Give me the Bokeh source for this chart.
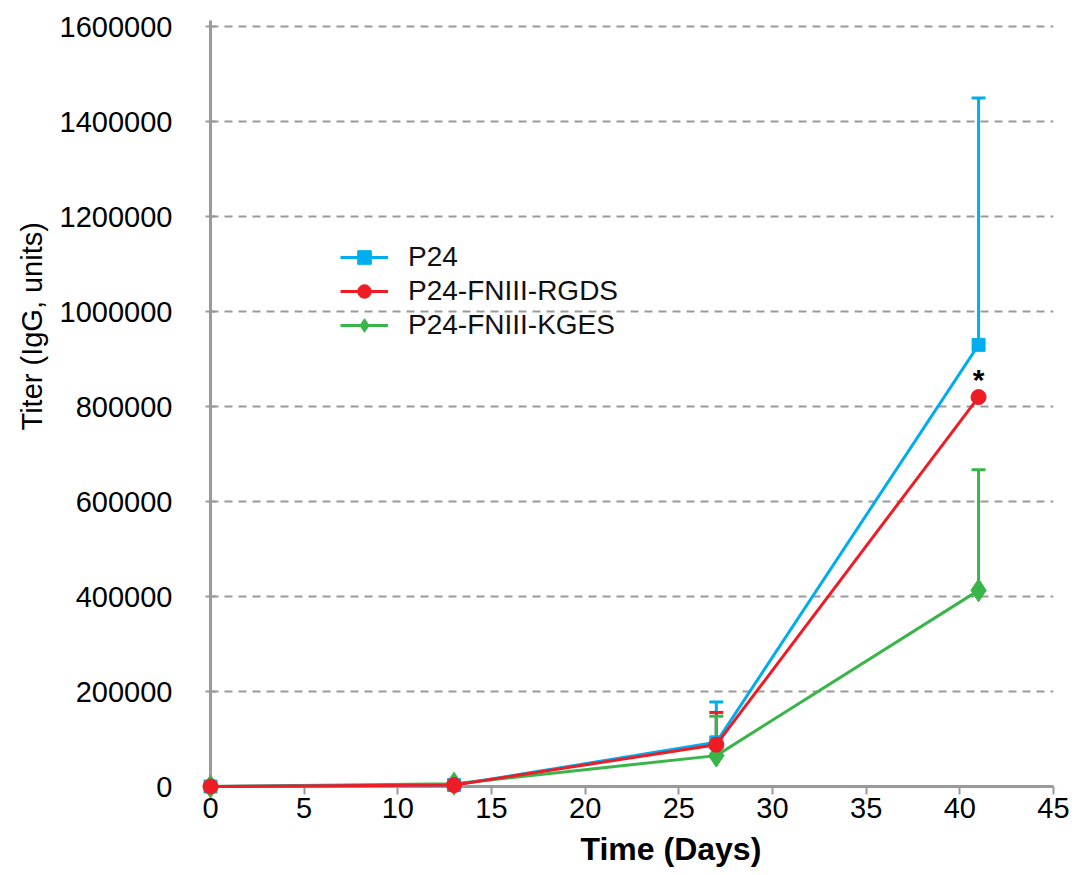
from bokeh.plotting import figure
from bokeh.models import (Range1d, FixedTicker, Whisker, TeeHead, ColumnDataSource,
                          Legend, LegendItem, Title)
from bokeh.core.properties import value
from bokeh.embed import file_html
from bokeh.resources import INLINE

# ---- data ----
days = [0, 13, 27, 41]
p24 = [0, 3000, 93000, 930000]
rgds = [0, 3000, 88000, 820000]
kges = [0, 6000, 65000, 413000]

err_days = [27, 41]
p24_err_top = [178000, 1450000]
rgds_err_top = [156000, 820000]
kges_err_top = [148000, 667000]

x_ticks = [0, 5, 10, 15, 20, 25, 30, 35, 40, 45]
x_tick_labels = ["0", "5", "10", "15", "20", "25", "30", "35", "40", "45"]
y_ticks = [0, 200000, 400000, 600000, 800000, 1000000, 1200000, 1400000, 1600000]
y_tick_labels = ["0", "200000", "400000", "600000", "800000", "1000000",
                 "1200000", "1400000", "1600000"]

names = ["P24", "P24-FNIII-RGDS", "P24-FNIII-KGES"]
colors = ["#00AEEF", "#EE1C25", "#39B54A"]
x_title = "Time (Days)"
y_title = "Titer (IgG, units)"

FONT = "Liberation Sans"
AX = "#9a9a9a"

p = figure(width=1090, height=875, x_range=Range1d(0, 45), y_range=Range1d(0, 1613000),
           output_backend="svg", toolbar_location=None,
           min_border_left=210, min_border_right=37, min_border_top=20, min_border_bottom=89)
p.outline_line_color = None
p.background_fill_color = "white"
p.border_fill_color = "white"

p.xgrid.visible = False
p.ygrid.ticker = FixedTicker(ticks=y_ticks)
p.ygrid.grid_line_color = AX
p.ygrid.grid_line_width = 2
p.ygrid.grid_line_dash = "8 6"

for ax in (p.xaxis[0], p.yaxis[0]):
    ax.axis_line_color = AX
    ax.axis_line_width = 3
    ax.major_tick_line_color = AX
    ax.major_tick_line_width = 2
    ax.minor_tick_line_color = None
    ax.major_label_text_font = FONT
    ax.major_label_text_font_size = "29px"
    ax.major_label_text_color = "black"

p.xaxis.ticker = FixedTicker(ticks=x_ticks)
p.xaxis.major_label_overrides = dict(zip(x_ticks, x_tick_labels))
p.xaxis.major_tick_in = 0
p.xaxis.major_tick_out = 8
p.xaxis.major_label_standoff = 3

p.yaxis.ticker = FixedTicker(ticks=y_ticks)
p.yaxis.major_label_overrides = dict(zip(y_ticks, y_tick_labels))
p.yaxis.major_tick_in = 5
p.yaxis.major_tick_out = 5
p.yaxis.major_label_standoff = 33

# axis titles (as side titles so they can be shifted along the axis)
xt = Title(text=x_title, align="left", offset=370, standoff=17, text_font=FONT,
           text_font_size="32px", text_font_style="bold", text_color="black")
p.add_layout(xt, "below")
yt = Title(text=y_title, align="left", offset=356, standoff=17, text_font=FONT,
           text_font_size="29px", text_font_style="normal", text_color="black")
p.add_layout(yt, "left")

series = [p24, rgds, kges]
markers = ["square", "circle", "diamond"]
sizes = [13, 15, 23]
tops = [p24_err_top, rgds_err_top, kges_err_top]

# error bars (upper only)
for i in [0, 1, 2]:
    means = [series[i][days.index(d)] for d in err_days]
    src = ColumnDataSource(dict(x=err_days, lo=means, hi=tops[i]))
    w = Whisker(base="x", lower="lo", upper="hi", source=src, dimension="height",
                line_color=colors[i], line_width=3,
                upper_head=TeeHead(size=14, line_color=colors[i], line_width=3),
                lower_head=None)
    p.add_layout(w)

items = {}
for i in [2, 0, 1]:
    src = ColumnDataSource(dict(x=days, y=series[i]))
    l = p.line("x", "y", source=src, line_color=colors[i], line_width=3, level="overlay")
    m = p.scatter("x", "y", source=src, marker=markers[i], size=sizes[i],
                  fill_color=colors[i], line_color=colors[i], level="overlay")
    items[i] = [l, m]

# significance asterisk above the RGDS value at the last time point
p.text(x=[days[-1]], y=[rgds[-1]], text=["*"], text_font=value(FONT),
       text_font_size="30px", text_font_style="bold", text_align="center",
       text_baseline="middle", y_offset=-18, text_color="black", level="overlay")

legend = Legend(items=[LegendItem(label=names[i], renderers=items[i]) for i in [0, 1, 2]],
                location=(130, 444), orientation="vertical")
legend.label_text_font = FONT
legend.label_text_font_size = "28px"
legend.label_text_color = "#111111"
legend.glyph_width = 48
legend.glyph_height = 34
legend.label_height = 34
legend.label_standoff = 20
legend.spacing = 0
legend.padding = 0
legend.margin = 0
legend.border_line_color = None
legend.background_fill_alpha = 0
p.add_layout(legend, "center")

open("out.html", "w").write(file_html(p, INLINE))
